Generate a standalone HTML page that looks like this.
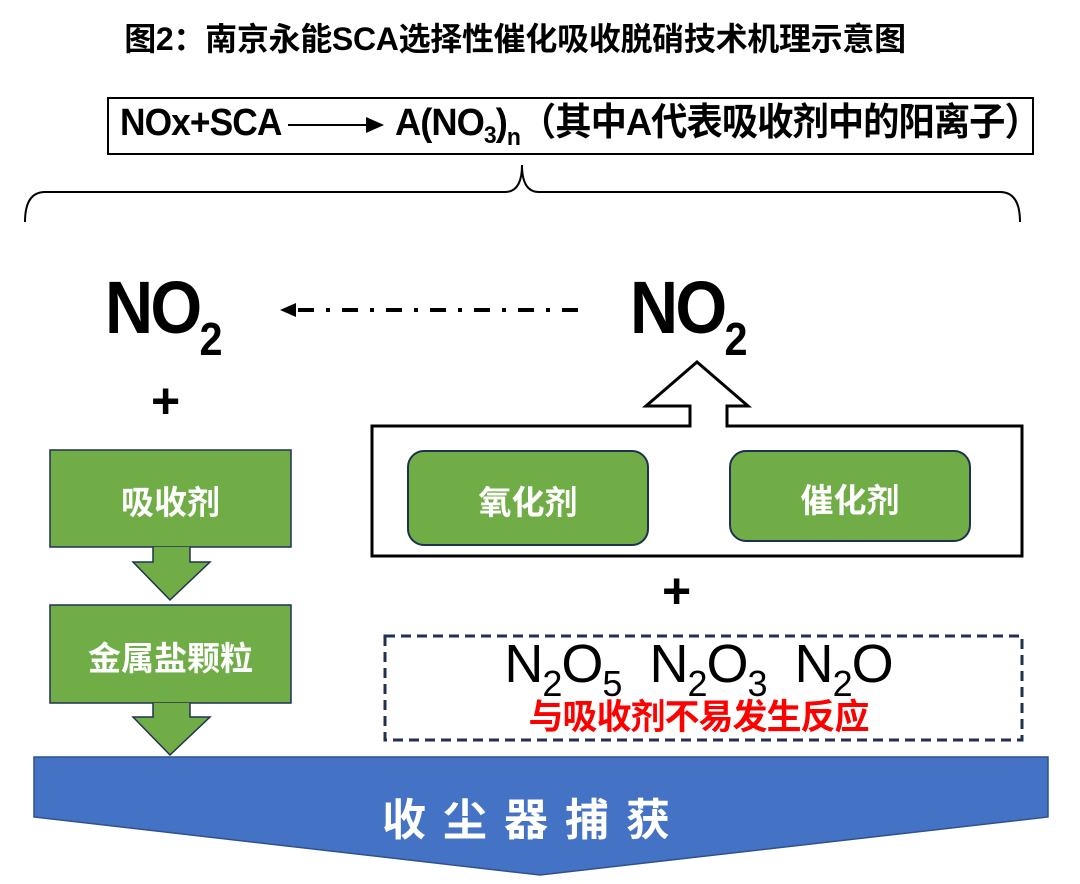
<!DOCTYPE html>
<html><head><meta charset="utf-8"><style>
body{margin:0;width:1080px;height:884px;background:#fff;position:relative;overflow:hidden;font-family:"Liberation Sans","Noto Sans CJK SC",sans-serif}
.a{position:absolute}
.t{font-weight:bold;white-space:nowrap}
</style></head><body>
<div class="a t" style="left:0;width:1030px;top:14px;text-align:center;font-size:32px;letter-spacing:-0.3px">图2：南京永能SCA选择性催化吸收脱硝技术机理示意图</div>
<div class="a" style="left:107px;top:97px;width:923px;height:54px;border:2px solid #000;"></div>
<div class="a t" style="left:120px;top:101px;font-size:38px;line-height:44px;letter-spacing:-1px;transform:scaleX(0.93);transform-origin:left">NOx+SCA</div>
<div class="a t" style="left:395px;top:101px;font-size:38px;line-height:44px;letter-spacing:-1px;transform:scaleX(0.955);transform-origin:left">A(NO<span style="font-size:24px;position:relative;top:8px">3</span>)<span style="font-size:24px;position:relative;top:10px">n</span>（其中A代表吸收剂中的阳离子）</div>
<svg class="a" style="left:0;top:0" width="1080" height="884">
<defs><marker id="m" markerWidth="10" markerHeight="10" refX="8" refY="5" orient="auto"><path d="M0,1 L9,5 L0,9z" fill="#000"/></marker></defs>
<line x1="288" y1="125" x2="382" y2="125" stroke="#000" stroke-width="2" marker-end="url(#m)"/>
<path d="M25,222 Q25,192 45,192 L505,192 Q522,192 522,165 Q522,192 539,192 L1000,192 Q1020,192 1020,222" fill="none" stroke="#000" stroke-width="2"/>
<line x1="298" y1="310" x2="585" y2="310" stroke="#000" stroke-width="4" stroke-dasharray="16,12,4,12"/>
<path d="M280,310 L296,303 L296,317z" fill="#000"/>
<path d="M372,426 L690,426 L690,406 L646,406 L697,362 L748,406 L727,406 L727,426 L1022,426 L1022,556 L372,556z" fill="#fff" stroke="#000" stroke-width="3"/>
<rect x="408" y="451" width="240" height="94" rx="16" fill="#70ad47" stroke="#1f3050" stroke-width="2"/>
<rect x="730" y="451" width="240" height="90" rx="16" fill="#70ad47" stroke="#1f3050" stroke-width="2"/>
<rect x="385" y="636" width="637" height="104" fill="none" stroke="#1f3050" stroke-width="3" stroke-dasharray="10,6"/>
<rect x="50" y="450" width="241" height="97" fill="#70ad47" stroke="#1f3050" stroke-width="1.5"/>
<path d="M153,547 L153,562 L133,562 L170,600 L210,562 L190,562 L190,547" fill="#70ad47" stroke="#1f3050" stroke-width="1.5"/>
<rect x="50" y="605" width="241" height="98" fill="#70ad47" stroke="#1f3050" stroke-width="1.5"/>
<path d="M153,703 L153,717 L133,717 L170,755 L210,717 L190,717 L190,703" fill="#70ad47" stroke="#1f3050" stroke-width="1.5"/>
<path d="M34,757 L1048,757 L1048,817 L540,875 L34,817z" fill="#4472c4" stroke="#2f528f" stroke-width="1.5"/>
</svg>
<div class="a t" style="left:105px;top:268px;font-size:74px;line-height:80px;letter-spacing:-3px;transform:scaleX(0.9);transform-origin:left">NO<span style="font-size:46px;position:relative;top:22px">2</span></div>
<div class="a t" style="left:630px;top:268px;font-size:74px;line-height:80px;letter-spacing:-3px;transform:scaleX(0.9);transform-origin:left">NO<span style="font-size:46px;position:relative;top:22px">2</span></div>
<div class="a t" style="left:151px;top:372px;font-size:50px">+</div>
<div class="a t" style="left:662px;top:562px;font-size:50px">+</div>
<div class="a t" style="left:50px;width:241px;top:476px;text-align:center;color:#fff;font-size:33px">吸收剂</div>
<div class="a t" style="left:50px;width:241px;top:632px;text-align:center;color:#fff;font-size:33px">金属盐颗粒</div>
<div class="a t" style="left:408px;width:240px;top:476px;text-align:center;color:#fff;font-size:33px">氧化剂</div>
<div class="a t" style="left:730px;width:240px;top:474px;text-align:center;color:#fff;font-size:33px">催化剂</div>
<div class="a" style="left:380px;width:637px;top:634px;text-align:center;font-size:54px;line-height:60px;white-space:nowrap;letter-spacing:-1px">N<span style="font-size:36px;position:relative;top:14px">2</span>O<span style="font-size:36px;position:relative;top:14px">5</span>&nbsp; N<span style="font-size:36px;position:relative;top:14px">2</span>O<span style="font-size:36px;position:relative;top:14px">3</span>&nbsp; N<span style="font-size:36px;position:relative;top:14px">2</span>O</div>
<div class="a t" style="left:380px;width:637px;top:696px;text-align:center;color:#f00;font-size:35px;line-height:44px;letter-spacing:-1px">与吸收剂不易发生反应</div>
<div class="a t" style="left:382px;top:784px;color:#fff;font-size:44px;letter-spacing:17px">收尘器捕获</div>
</body></html>
